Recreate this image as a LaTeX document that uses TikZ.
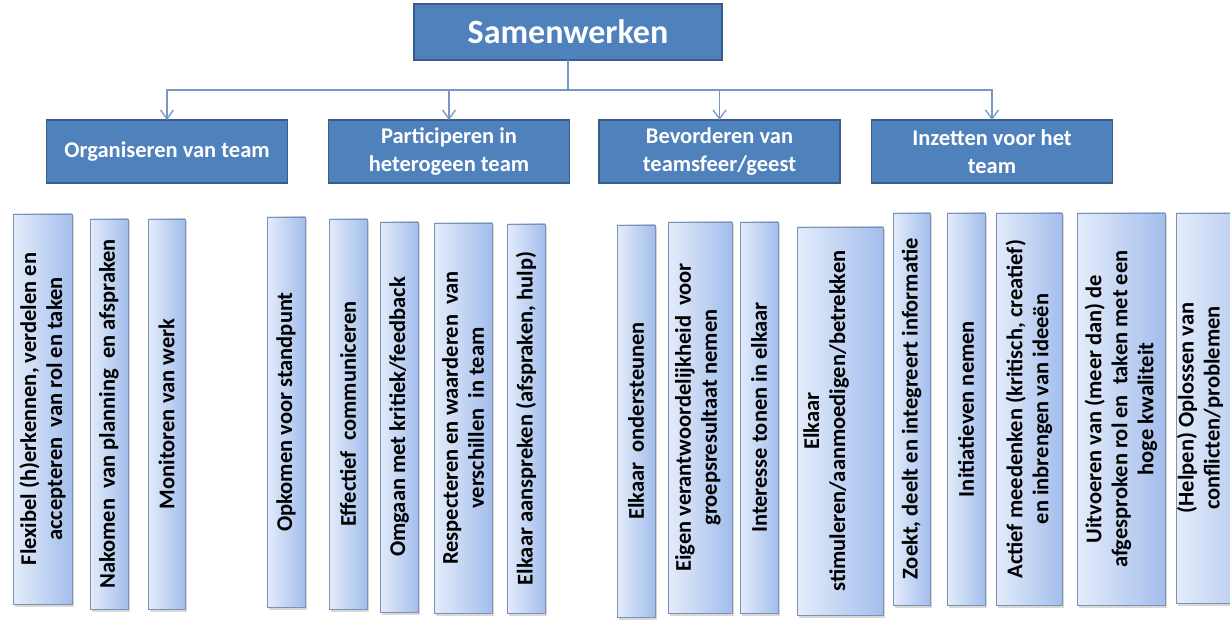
\documentclass[tikz,border=0pt]{standalone}
\usepackage{fontspec}
\setmainfont{Carlito}
\usetikzlibrary{arrows.meta}
\usetikzlibrary{calc}
\usetikzlibrary{positioning}
\usetikzlibrary{shadows}
\definecolor{boxblue}{HTML}{4F81BD}
\definecolor{boxedge}{HTML}{3A5E8C}
\definecolor{linkblue}{HTML}{7A97C6}
\definecolor{leaflight}{HTML}{E4ECFA}
\definecolor{leafdark}{HTML}{A3BEEC}
\definecolor{leafedge}{HTML}{7D91B3}
\tikzset{
    main box/.style={
        draw=boxedge,
        line width=1.8pt,
        fill=boxblue,
        text=white,
        align=center,
        inner sep=0,
        outer sep=0,
    },
    title box/.style={
        main box,
        font=\bfseries\fontsize{34}{40}\selectfont,
        minimum width=308pt,
        minimum height=56pt,
    },
    group box/.style={
        main box,
        font=\bfseries\fontsize{22.5}{28}\selectfont,
        minimum width=241pt,
        minimum height=63pt,
    },
    link arrow/.style={
        draw=linkblue,
        line width=1.3pt,
        -{Straight Barb[length=9pt,width=13pt]},
    },
    leaf box/.style={
        draw=leafedge,
        line width=0.9pt,
        left color=leaflight,
        right color=leafdark,
        inner sep=0,
        outer sep=0,
        drop shadow={shadow xshift=1.5pt,shadow yshift=-2.5pt,opacity=0.3},
    },
    leaf text/.style={
        rotate=90,
        align=center,
        font=\bfseries\fontsize{22.5}{26}\selectfont,
        inner sep=0,
    },
}

\begin{document}
\begin{tikzpicture}[x=1pt,y=-1pt]

    \clip (0,0) rectangle (1230,620);
    \fill[white] (0,0) rectangle (1230,620);

    \node[title box] (samen) at (568,32) {Samenwerken};

    \node[group box] (org) at (167,151.5) {Organiseren van team};
    \node[group box] (part) at (449,151.5) {Participeren in\\heterogeen team};
    \node[group box] (bev) at (719.5,151.5) {Bevorderen van\\teamsfeer/geest};
    \node[group box] (inz) at (992,151.5) {Inzetten voor het\\team};

    \coordinate (bus) at (568,90);
    \foreach \g in {org,part,bev,inz}
    {
        \draw[link arrow] (samen.south) |- (bus -| \g.north) -- (\g.north);
    }

    % leaves: name / left / right / top / bottom / text x / text
    \foreach \i/\xa/\xb/\ya/\yb/\tx/\txt in {
        1/13/72/214/604/42.5/{Flexibel (h)erkennen, verdelen en\\accepteren\ \ van rol en taken},
        2/90/128/219/609/109/{Nakomen\ \ van planning\ \ en afspraken},
        3/148/185/219/609/166.5/{Monitoren van werk},
        4/267/305/217/607/286/{Opkomen voor standpunt},
        5/329/367/219/609/348/{Effectief\ \ communiceren},
        6/380/418/222/612/399/{Omgaan met kritiek/feedback},
        7/434/492/223/613/463/{Respecteren en waarderen\ \ van\\verschillen\ \ in team},
        8/507/545/224/613/526/{Elkaar aanspreken (afspraken, hulp)},
        9/617/655/225/617/636/{Elkaar\ \ ondersteunen},
        10/668/732/222/613/698/{Eigen verantwoordelijkheid\ \ voor\\groepsresultaat nemen},
        11/740/778/222/613/759/{Interesse tonen in elkaar},
        12/797/883/227/615/826/{Elkaar\\stimuleren/aanmoedigen/betrekken},
        13/893/930/213/605/911.5/{Zoekt, deelt en integreert informatie},
        14/947/985/213/605/966/{Initiatieven nemen},
        15/996/1062/213/605/1029/{Actief meedenken (kritisch, creatief)\\en inbrengen van ideeën},
        16/1077/1165/213/605/1121/{Uitvoeren van (meer dan) de\\afgesproken rol en\ \ taken met een\\hoge kwaliteit},
        17/1176/1270/213/603/1200/{(Helpen) Oplossen van\\conflicten/problemen}}
    {
        \node[leaf box, minimum width={(\xb-\xa)*1pt}, minimum height={(\yb-\ya)*1pt}]
            (l\i) at ({(\xa+\xb)/2},{(\ya+\yb)/2}) {};
        \node[leaf text] (l\i t) at (\tx,{(\ya+\yb)/2}) {\txt};
    }

\end{tikzpicture}
\end{document}
